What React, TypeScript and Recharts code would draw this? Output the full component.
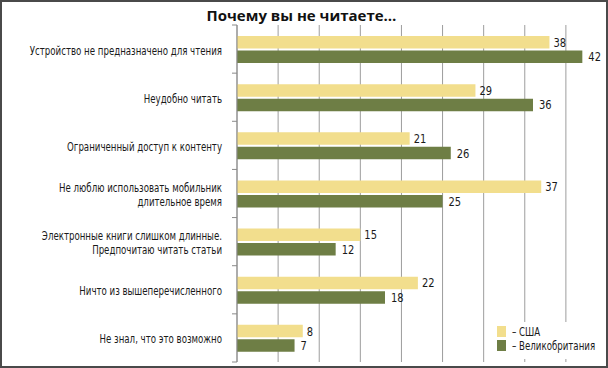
import { BarChart, Bar, XAxis, YAxis, CartesianGrid, LabelList, Legend } from "recharts";

const categories = [
    'Устройство не предназначено для чтения',
    'Неудобно читать',
    'Ограниченный доступ к контенту',
    'Не люблю использовать мобильник\nдлительное время',
    'Электронные книги слишком длинные.\nПредпочитаю читать статьи',
    'Ничто из вышеперечисленного',
    'Не знал, что это возможно',
]
const usaValues = [38, 29, 21, 37, 15, 22, 8]
const ukValues = [42, 36, 26, 25, 12, 18, 7]
const xTicks = [0, 5, 10, 15, 20, 25, 30, 35, 40]
const seriesNames = ['США', 'Великобритания']

const COLORS = ['#F2DE8D', '#6E7E45']
const NARROW = "'DejaVu Sans Condensed', 'Liberation Sans', sans-serif"
const SQUEEZE = 0.8

const W = 608
const H = 368
const MARGIN = { top: 25, right: 1, bottom: 6, left: 0 }
const BAND = (H - MARGIN.top - MARGIN.bottom) / categories.length
const TICK_MARGIN = 15

const data = categories.map((name, i) => ({ name, usa: usaValues[i], uk: ukValues[i] }))

// подписи категорий + засечки на границах полос
const CategoryTick = (props: any) => {
    const { x, y, payload, index } = props
    const lines: string[] = String(payload.value).split('\n')
    const lh = 13.5
    const axisX = x + TICK_MARGIN
    return (
        <g>
            <line x1={axisX - 5} x2={axisX} y1={y - BAND / 2} y2={y - BAND / 2} stroke="#8a8a8a" />
            {index === categories.length - 1 && (
                <line x1={axisX - 5} x2={axisX} y1={y + BAND / 2} y2={y + BAND / 2} stroke="#8a8a8a" />
            )}
            <text transform={`translate(${x} 0) scale(${SQUEEZE} 1)`} textAnchor="end" fontFamily={NARROW} fontSize={12} fill="#1a1a1a">
                {lines.map((t, i) => (
                    <tspan key={i} x={0} y={y + 5.5 - ((lines.length - 1) * lh) / 2 + i * lh}>{t}</tspan>
                ))}
            </text>
        </g>
    )
}

const ValueLabel = (props: any) => {
    const { x, y, width, height, value, offset } = props
    const tx = x + width + offset
    return (
        <text transform={`translate(${tx} 0) scale(0.85 1)`} x={0} y={y + height / 2 + 4.5} fontFamily={NARROW} fontSize={13} fill="#1a1a1a">
            {value}
        </text>
    )
}

const renderLegend = () => (
    <svg width={112} height={37} style={{ display: 'block' }}>
        <rect x={0} y={0} width={112} height={37} fill="#fff" />
        {seriesNames.map((n, i) => (
            <g key={n}>
                <rect x={9} y={4 + i * 14} width={9} height={11} fill={COLORS[i]} />
                <text transform={`translate(24 0) scale(${SQUEEZE} 1)`} x={0} y={14 + i * 14} fontFamily={NARROW} fontSize={12} fill="#1a1a1a">
                    – {n}
                </text>
            </g>
        ))}
    </svg>
)

export default function App() {
    return (
        <div style={{ position: 'absolute', left: 0, top: 0, width: W, height: H, background: '#fff' }}>
            <BarChart width={W} height={H} data={data} layout="vertical" margin={MARGIN} barSize={12.5} barGap={2}>
                <CartesianGrid horizontal={false} stroke="#9d9d9d" />
                <XAxis type="number" domain={[0, 45]} ticks={xTicks} hide />
                <YAxis
                    type="category"
                    dataKey="name"
                    width={237}
                    axisLine={{ stroke: '#8a8a8a' }}
                    tickLine={false}
                    tickSize={0}
                    tickMargin={TICK_MARGIN}
                    interval={0}
                    tick={<CategoryTick />}
                />
                <Bar dataKey="usa" name={seriesNames[0]} fill={COLORS[0]} isAnimationActive={false}>
                    <LabelList dataKey="usa" offset={4} content={<ValueLabel />} />
                </Bar>
                <Bar dataKey="uk" name={seriesNames[1]} fill={COLORS[1]} isAnimationActive={false}>
                    <LabelList dataKey="uk" offset={6} content={<ValueLabel />} />
                </Bar>
                <Legend
                    content={renderLegend}
                    layout="horizontal"
                    verticalAlign="middle"
                    align="center"
                    wrapperStyle={{ left: 488, top: 322, width: 112, height: 37 }}
                />
            </BarChart>
            <div style={{ position: 'absolute', left: 0, top: 5, width: 603, height: 20, lineHeight: '20px', textAlign: 'center', fontFamily: "'Open Sans', sans-serif", fontWeight: 700, fontSize: 15, color: '#111' }}>
                Почему вы не читаете…
            </div>
            <div style={{ position: 'absolute', left: 0, top: 0, width: W, height: H, boxSizing: 'border-box', border: '2px solid #4a4a4a', pointerEvents: 'none' }} />
        </div>
    )
}
